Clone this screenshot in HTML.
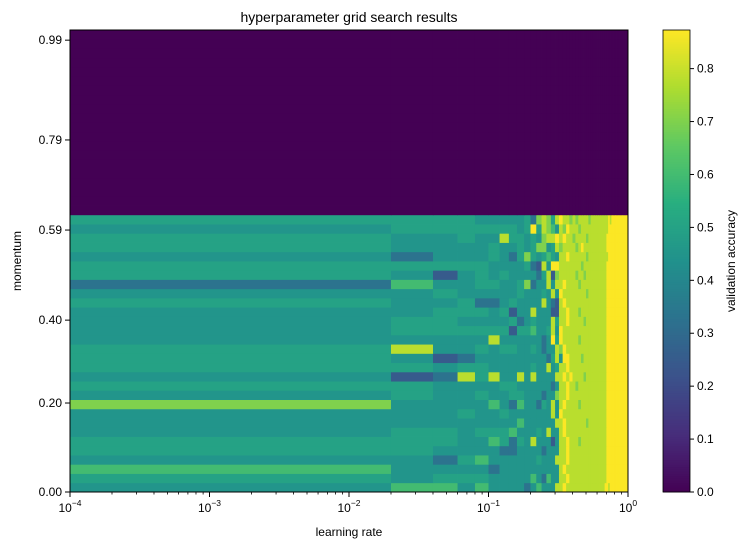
<!DOCTYPE html>
<html><head><meta charset="utf-8">
<style>
html,body{margin:0;padding:0;background:#fff;}
svg{display:block;font-family:"Liberation Sans","DejaVu Sans",sans-serif;}
</style></head>
<body>
<svg id="chart" width="747" height="550" viewBox="0 0 747 550" xmlns="http://www.w3.org/2000/svg">
<text x="349" y="22" text-anchor="middle" font-size="14" fill="#000">hyperparameter grid search results</text>
<g id="cells"></g>
<g id="axes"></g>
<g id="cbar"></g>
<text x="349" y="536" text-anchor="middle" font-size="12">learning rate</text>
<text transform="translate(21,261) rotate(-90)" text-anchor="middle" font-size="12">momentum</text>
<text transform="translate(735,261) rotate(-90)" text-anchor="middle" font-size="12">validation accuracy</text>
</svg>
<script>
// learning rates (columns) and momentum (rows)
const learningRates = [0.0001];
for (let i = 1; i < 50; i++) learningRates.push(+(i * 0.02).toFixed(2));
const momentumRows = [];
for (let i = 0; i < 50; i++) momentumRows.push(+(i * 0.02).toFixed(2));
// accuracy value per digit code
const digitValues = [0, 0.1, 0.25, 0.33, 0.45, 0.5, 0.6, 0.7, 0.78, 0.87];
// accuracy digit codes per row (row 0 = momentum 0.00)
const accRows = [
"4664644443464448898888888888888888998999999999999",
"5455544444643644889888888888888888899999999999999",
"6444434444444444898888888888888888899999999999999",
"4435644444454448889888888888888888899999999999999",
"5544443344443444889888888888888888899999999999999",
"5554465354844424889888788888888888899999999999999",
"4554555644454844898888888888888888899999999999999",
"4444444464444448898888888788888888899999999999999",
"4445445444444484988888888888888888899999999999999",
"7444464364435484898888788888888888899999999999999",
"4544544554443447889888888888888888899999999999999",
"5544445544444434889887888888888888899999999999999",
"4238584484844448898988887888888888899999999999999",
"5545544444544845889888888888888888899999999999999",
"5423444444444358499888878888888888899999999999999",
"5844545544543448798888888888888888899999999999999",
"4444484444443495988888788888888888899999999999999",
"4555555255644584988888888888888888899999999999999",
"4554444534544485889888887888888888899999999999999",
"4455545244844422889888788888888888899999999999999",
"5445334544448432898888888888888888899999999999999",
"4454444454445484988888888788888888899999999999999",
"3644554457344848898888788888888888899999999999999",
"5424545444435827888887887888888888899999999999999",
"5555544445328499888888878888888888899999999999999",
"4344454357545654889888888788888888889999999999999",
"5444454454577458788887898888888888899999999999999",
"5445448554547889898878888788888888899999999999999",
"4555555545958764879888788888888888889999999999999",
"5555444445378758988787888878888888889899999999999"
];
const vmax = 0.873;
const cbarTicks = [0.0, 0.1, 0.2, 0.3, 0.4, 0.5, 0.6, 0.7, 0.8];
const xTickLabels = ["-4", "-3", "-2", "-1", "0"];
const yTickLabels = ["0.00", "0.20", "0.40", "0.59", "0.79", "0.99"];
const yTickRows = [0, 9.63, 18.6, 28.35, 38.1, 48.9];

const NS = "http://www.w3.org/2000/svg";
const PL = 70, PR = 628, PT = 30, PB = 492;
function xs(v){ return PL + (Math.log10(v) + 4) / 4 * (PR - PL); }
function ys(m){ return PB - m * (PB - PT); }
function yRow(r){ return PB - r / 50 * (PB - PT); }
function val(r, c){
  if (r >= accRows.length) return 0;
  const s = accRows[r];
  const ch = c < s.length ? s[c] : s[s.length - 1];
  const d = +ch;
  if (isNaN(d)) return 0;
  return digitValues[d];
}
const stops = ["#440154","#472d7b","#3b528b","#2c728e","#21918c","#28ae80","#5ec962","#addc30","#fde725"].map(h=>[parseInt(h.substr(1,2),16),parseInt(h.substr(3,2),16),parseInt(h.substr(5,2),16)]);
function viridis(v){
  if (isNaN(v)) v = 0;
  let t = Math.max(0, Math.min(1, v / vmax)) * 8;
  const i = Math.min(7, Math.floor(t)), f = t - i;
  const a = stops[i], b = stops[i+1];
  return "rgb(" + a.map((x,k)=>Math.round(x + (b[k]-x)*f)).join(",") + ")";
}
function mk(tag, attrs, parent){
  const e = document.createElementNS(NS, tag);
  for (const k in attrs) e.setAttribute(k, attrs[k]);
  parent.appendChild(e); return e;
}
const cells = document.getElementById("cells");
for (let r = 0; r < momentumRows.length; r++) {
  const y0 = ys(momentumRows[r]), y1 = ys(r + 1 < momentumRows.length ? momentumRows[r+1] : 1);
  for (let c = 0; c < learningRates.length; c++) {
    const x0 = xs(learningRates[c]), x1 = xs(c + 1 < learningRates.length ? learningRates[c+1] : 1);
    const el = mk("rect", {x: x0.toFixed(2), y: y1.toFixed(2), width: (x1 - x0 + 0.4).toFixed(2), height: (y0 - y1 + 0.4).toFixed(2), fill: viridis(val(r, c))}, cells);
    
    
  }
}
const axes = document.getElementById("axes");
const frame = mk("rect", {x: PL, y: PT, width: PR-PL, height: PB-PT, fill: "none", stroke: "#000", "stroke-width": 1}, axes);


xTickLabels.forEach((lab, i) => {
  const x = xs(Math.pow(10, +lab));
  mk("line", {x1: x, x2: x, y1: PB, y2: PB + 5, stroke: "#000"}, axes);
  const t = mk("text", {x: x, y: PB + 20, "text-anchor": "middle", "font-size": 12}, axes);
  
  
  t.appendChild(document.createTextNode("10"));
  const s = mk("tspan", {dy: -6, "font-size": 8.5}, t);
  s.textContent = lab === "0" ? "0" : "\u2212" + lab.slice(1);
  if (i < xTickLabels.length - 1) {
    for (let m = 2; m < 10; m++) {
      const xm = xs(m * Math.pow(10, +lab));
      mk("line", {x1: xm, x2: xm, y1: PB, y2: PB + 2.5, stroke: "#000", "stroke-width": 0.8}, axes);
    }
  }
});
yTickLabels.forEach((lab, i) => {
  const y = yRow(yTickRows[i]);
  mk("line", {x1: PL - 5, x2: PL, y1: y, y2: y, stroke: "#000"}, axes);
  const t = mk("text", {x: PL - 8, y: y + 4, "text-anchor": "end", "font-size": 12}, axes);
  
  
  t.textContent = lab;
});
const cb = document.getElementById("cbar");
const CX0 = 663, CX1 = 690;
function cys(v){ return PB - v / vmax * (PB - PT); }
for (let i = 0; i < 200; i++) {
  const v0 = i / 200 * vmax, v1 = (i + 1) / 200 * vmax;
  mk("rect", {x: CX0, y: cys(v1), width: CX1 - CX0, height: cys(v0) - cys(v1) + 0.5, fill: viridis((v0+v1)/2)}, cb);
}
mk("rect", {x: CX0, y: PT, width: CX1-CX0, height: PB-PT, fill: "none", stroke: "#000", "stroke-width": 0.8}, cb);
cbarTicks.forEach(v => {
  const y = cys(v);
  mk("line", {x1: CX1, x2: CX1 + 4, y1: y, y2: y, stroke: "#000"}, cb);
  const t = mk("text", {x: CX1 + 7, y: y + 4, "font-size": 12}, cb);
  
  
  t.textContent = v.toFixed(1);
});
</script>
</body></html>
